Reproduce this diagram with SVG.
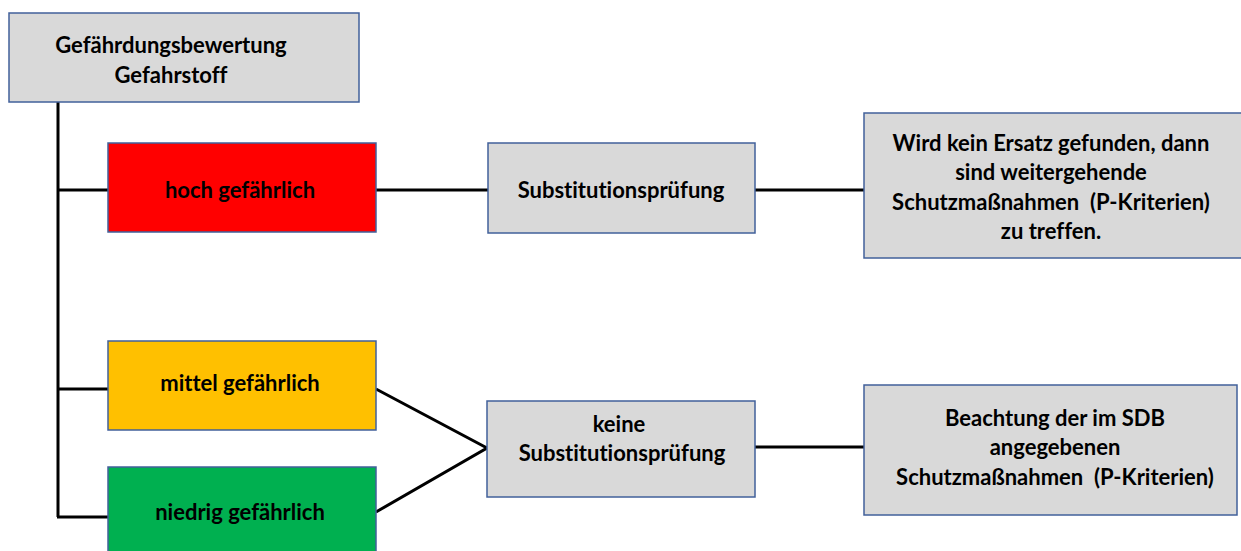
<svg xmlns="http://www.w3.org/2000/svg" width="1241" height="551" viewBox="0 0 1241 551">
<style>
.box{stroke:#41609a;stroke-width:1.5}
.g{fill:#d9d9d9}
.t{font-family:Lato,"Liberation Sans",sans-serif;font-weight:bold;font-size:22px;fill:#000;text-anchor:middle;white-space:pre;font-variant-ligatures:none}
.c{stroke:#000;stroke-width:3;fill:none}
</style>
<rect width="1241" height="551" fill="#fff"/>
<g id="connectors">
<path class="c" d="M58,102 V517 M57,190 H108 M57,389 H108 M57,517 H108"/>
<path class="c" d="M376,190 H488 M755,190 H864"/>
<path class="c" d="M376,389 L487,448 L376,512 M755,447 H864"/>
</g>
<g id="root"><rect class="box g" x="9" y="13" width="350" height="89"/>
<text class="t" x="171" y="53">Gefährdungsbewertung</text><text class="t" x="171" y="83">Gefahrstoff</text></g>
<g id="hoch"><rect class="box" fill="#ff0000" x="108" y="143" width="268" height="89"/><text class="t" x="240" y="198">hoch gefährlich</text></g>
<g id="mittel"><rect class="box" fill="#ffc000" x="108" y="341" width="268" height="89"/><text class="t" x="240" y="391">mittel gefährlich</text></g>
<g id="niedrig"><rect class="box" fill="#00b050" x="108" y="467" width="268" height="90"/><text class="t" x="240" y="520">niedrig gefährlich</text></g>
<g id="subst"><rect class="box g" x="488" y="143" width="267" height="90"/><text class="t" x="621" y="198">Substitutionsprüfung</text></g>
<g id="keine"><rect class="box g" x="487" y="401" width="268" height="96"/><text class="t" x="619" y="432">keine</text><text class="t" x="622" y="461">Substitutionsprüfung</text></g>
<g id="ersatz"><rect class="box g" x="864" y="113" width="380" height="145"/>
<text class="t" x="1051" y="151">Wird kein Ersatz gefunden, dann</text>
<text class="t" x="1051" y="180">sind weitergehende</text>
<text class="t" x="1051" y="210">Schutzmaßnahmen  (P-Kriterien)</text>
<text class="t" x="1051" y="239">zu treffen.</text></g>
<g id="beachtung"><rect class="box g" x="864" y="385" width="373" height="130"/>
<text class="t" x="1055" y="426">Beachtung der im SDB</text>
<text class="t" x="1055" y="455">angegebenen</text>
<text class="t" x="1055" y="485">Schutzmaßnahmen  (P-Kriterien)</text></g>
</svg>
